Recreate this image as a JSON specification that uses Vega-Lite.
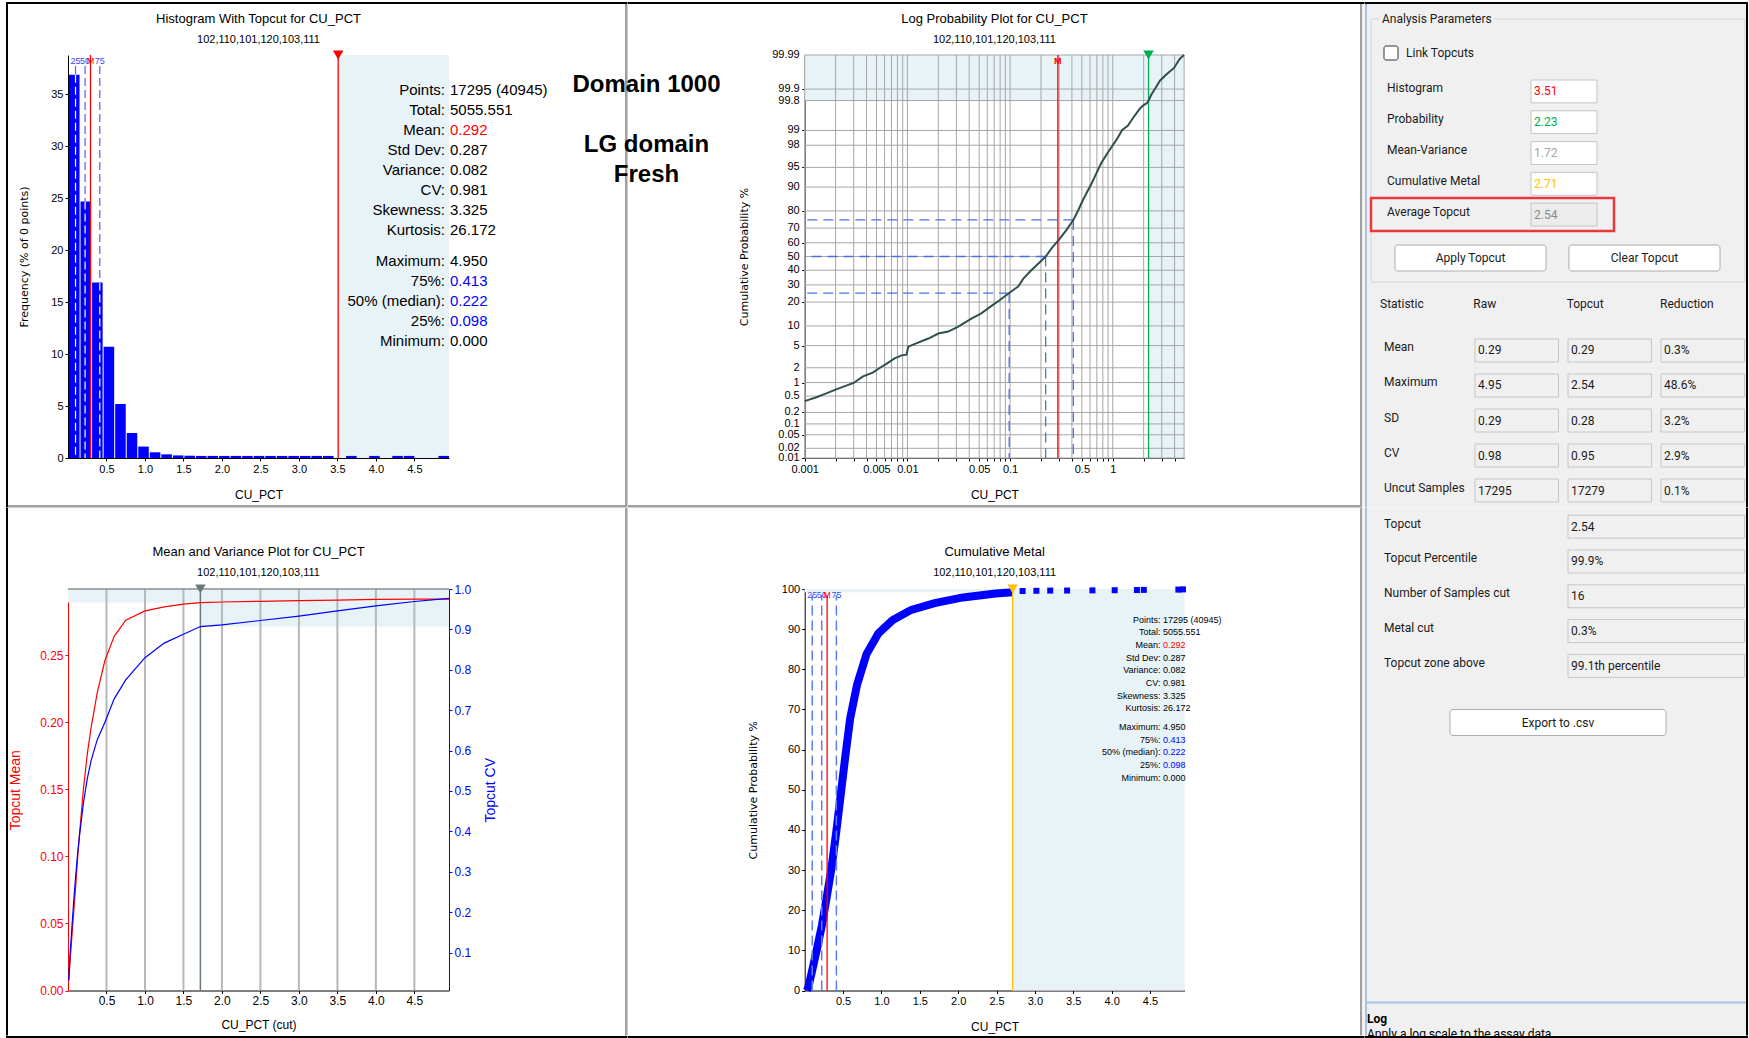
{
  "$schema": "https://vega.github.io/schema/vega-lite/v6.json",
  "background": "#ffffff",
  "padding": {"left": 4, "top": 0, "right": 0, "bottom": 0},
  "bounds": "flush",
  "spacing": 0,
  "columns": 9,
  "config": {
    "view": {"stroke": null},
    "concat": {"spacing": 0},
    "font": "Liberation Sans",
    "text": {"font": "Liberation Sans"},
    "axis": {
      "labelFont": "Liberation Sans", "labelFontSize": 11, "labelColor": "#000000",
      "titleFont": "Liberation Sans", "titleFontSize": 12, "titleFontWeight": "normal", "titleColor": "#000000",
      "domainColor": "#000000", "tickColor": "#000000", "tickSize": 3, "labelPadding": 2,
      "grid": false, "labelOverlap": false, "labelFlush": false
    },
    "title": {
      "font": "Liberation Sans", "fontSize": 13, "fontWeight": "normal", "color": "#000000",
      "subtitleFont": "Liberation Sans", "subtitleFontSize": 11, "subtitleColor": "#000000",
      "anchor": "middle", "frame": "group", "baseline": "top", "subtitlePadding": 8
    }
  },
  "datasets": {
    "topcuts": [
      {"method": "Histogram", "value": 3.51},
      {"method": "Probability", "value": 2.23, "p": 99.8},
      {"method": "Mean-Variance", "value": 1.72, "mean": 0.2892, "cv": 0.907},
      {"method": "Cumulative Metal", "value": 2.71, "pct": 99.2},
      {"method": "Average Topcut", "value": 2.54}
    ],
    "markers": [
      {"q": "25", "value": 0.098, "p": 25, "inBar": 36.9},
      {"q": "50", "value": 0.222, "p": 50, "inBar": 24.7},
      {"q": "M", "value": 0.292},
      {"q": "75", "value": 0.413, "p": 75, "inBar": 16.9}
    ],
    "hist": [
      {"start": 0.0, "end": 0.15, "freq": 36.9},
      {"start": 0.15, "end": 0.3, "freq": 24.7},
      {"start": 0.3, "end": 0.45, "freq": 16.9},
      {"start": 0.45, "end": 0.6, "freq": 10.7},
      {"start": 0.6, "end": 0.75, "freq": 5.2},
      {"start": 0.75, "end": 0.9, "freq": 2.4},
      {"start": 0.9, "end": 1.05, "freq": 1.1},
      {"start": 1.05, "end": 1.2, "freq": 0.55},
      {"start": 1.2, "end": 1.35, "freq": 0.35},
      {"start": 1.35, "end": 1.5, "freq": 0.25},
      {"start": 1.5, "end": 1.65, "freq": 0.22},
      {"start": 1.65, "end": 1.8, "freq": 0.2},
      {"start": 1.8, "end": 1.95, "freq": 0.2},
      {"start": 1.95, "end": 2.1, "freq": 0.2},
      {"start": 2.1, "end": 2.25, "freq": 0.2},
      {"start": 2.25, "end": 2.4, "freq": 0.2},
      {"start": 2.4, "end": 2.55, "freq": 0.2},
      {"start": 2.55, "end": 2.7, "freq": 0.2},
      {"start": 2.7, "end": 2.85, "freq": 0.2},
      {"start": 2.85, "end": 3.0, "freq": 0.2},
      {"start": 3.0, "end": 3.15, "freq": 0.2},
      {"start": 3.15, "end": 3.3, "freq": 0.2},
      {"start": 3.3, "end": 3.45, "freq": 0.2},
      {"start": 3.6, "end": 3.75, "freq": 0.2},
      {"start": 3.9, "end": 4.05, "freq": 0.2},
      {"start": 4.2, "end": 4.35, "freq": 0.2},
      {"start": 4.35, "end": 4.5, "freq": 0.2},
      {"start": 4.8, "end": 4.95, "freq": 0.2}
    ],
    "logprob": [
      {"cu": 0.001, "p": 0.38}, {"cu": 0.0013, "p": 0.47}, {"cu": 0.0016, "p": 0.57}, {"cu": 0.002, "p": 0.7},
      {"cu": 0.0025, "p": 0.85}, {"cu": 0.003, "p": 0.98}, {"cu": 0.0037, "p": 1.35}, {"cu": 0.0046, "p": 1.6},
      {"cu": 0.0055, "p": 2.05}, {"cu": 0.0063, "p": 2.4}, {"cu": 0.0075, "p": 3.0}, {"cu": 0.0088, "p": 3.4},
      {"cu": 0.0098, "p": 3.5}, {"cu": 0.0102, "p": 4.8}, {"cu": 0.012, "p": 5.4}, {"cu": 0.016, "p": 6.5},
      {"cu": 0.02, "p": 7.75}, {"cu": 0.025, "p": 8.3}, {"cu": 0.031, "p": 9.7}, {"cu": 0.042, "p": 12.6},
      {"cu": 0.052, "p": 14.6}, {"cu": 0.064, "p": 17.6}, {"cu": 0.079, "p": 21}, {"cu": 0.098, "p": 25},
      {"cu": 0.12, "p": 29}, {"cu": 0.134, "p": 34}, {"cu": 0.16, "p": 39.8}, {"cu": 0.19, "p": 45},
      {"cu": 0.222, "p": 50}, {"cu": 0.26, "p": 57}, {"cu": 0.297, "p": 61.9}, {"cu": 0.35, "p": 68.4},
      {"cu": 0.413, "p": 75}, {"cu": 0.46, "p": 80.2}, {"cu": 0.503, "p": 84.4}, {"cu": 0.56, "p": 88.2},
      {"cu": 0.622, "p": 91.1}, {"cu": 0.69, "p": 93.7}, {"cu": 0.768, "p": 95.7}, {"cu": 0.88, "p": 97.1},
      {"cu": 1.0, "p": 98.0}, {"cu": 1.1, "p": 98.5}, {"cu": 1.235, "p": 99.02}, {"cu": 1.4, "p": 99.21},
      {"cu": 1.61, "p": 99.51}, {"cu": 1.85, "p": 99.69}, {"cu": 2.0, "p": 99.74}, {"cu": 2.16, "p": 99.77},
      {"cu": 2.23, "p": 99.8}, {"cu": 2.4, "p": 99.866}, {"cu": 2.59, "p": 99.904}, {"cu": 2.88, "p": 99.941},
      {"cu": 3.3, "p": 99.96}, {"cu": 3.95, "p": 99.975}, {"cu": 4.5, "p": 99.987}, {"cu": 4.95, "p": 99.99}
    ],
    "logGrid": [
      {"cu": 0.001}, {"cu": 0.002}, {"cu": 0.003}, {"cu": 0.004}, {"cu": 0.005}, {"cu": 0.006}, {"cu": 0.007}, {"cu": 0.008}, {"cu": 0.009},
      {"cu": 0.01}, {"cu": 0.02}, {"cu": 0.03}, {"cu": 0.04}, {"cu": 0.05}, {"cu": 0.06}, {"cu": 0.07}, {"cu": 0.08}, {"cu": 0.09},
      {"cu": 0.1}, {"cu": 0.2}, {"cu": 0.3}, {"cu": 0.4}, {"cu": 0.5}, {"cu": 0.6}, {"cu": 0.7}, {"cu": 0.8}, {"cu": 0.9},
      {"cu": 1}, {"cu": 2}, {"cu": 3}, {"cu": 4}
    ],
    "probGrid": [
      {"p": 0.01}, {"p": 0.02}, {"p": 0.05}, {"p": 0.1}, {"p": 0.2}, {"p": 0.5}, {"p": 1}, {"p": 2}, {"p": 5}, {"p": 10},
      {"p": 20}, {"p": 30}, {"p": 40}, {"p": 50}, {"p": 60}, {"p": 70}, {"p": 80}, {"p": 90}, {"p": 95}, {"p": 98},
      {"p": 99}, {"p": 99.8}, {"p": 99.9}, {"p": 99.99}
    ],
    "mv": [
      {"cut": 0.01, "mean": 0.008, "cv": 0.03},
      {"cut": 0.025, "mean": 0.02, "cv": 0.09},
      {"cut": 0.05, "mean": 0.04, "cv": 0.16},
      {"cut": 0.075, "mean": 0.059, "cv": 0.23},
      {"cut": 0.1, "mean": 0.078, "cv": 0.29},
      {"cut": 0.125, "mean": 0.099, "cv": 0.345},
      {"cut": 0.15, "mean": 0.117, "cv": 0.39},
      {"cut": 0.2, "mean": 0.15, "cv": 0.47},
      {"cut": 0.25, "mean": 0.176, "cv": 0.53},
      {"cut": 0.3, "mean": 0.196, "cv": 0.575},
      {"cut": 0.38, "mean": 0.222, "cv": 0.627},
      {"cut": 0.48, "mean": 0.246, "cv": 0.67},
      {"cut": 0.6, "mean": 0.264, "cv": 0.728},
      {"cut": 0.75, "mean": 0.276, "cv": 0.775},
      {"cut": 1.0, "mean": 0.283, "cv": 0.83},
      {"cut": 1.25, "mean": 0.286, "cv": 0.866},
      {"cut": 1.5, "mean": 0.288, "cv": 0.888},
      {"cut": 1.72, "mean": 0.2892, "cv": 0.907},
      {"cut": 2.0, "mean": 0.2896, "cv": 0.911},
      {"cut": 2.5, "mean": 0.2901, "cv": 0.922},
      {"cut": 3.0, "mean": 0.2906, "cv": 0.933},
      {"cut": 3.5, "mean": 0.291, "cv": 0.946},
      {"cut": 4.0, "mean": 0.2916, "cv": 0.958},
      {"cut": 4.5, "mean": 0.2917, "cv": 0.969},
      {"cut": 4.95, "mean": 0.2918, "cv": 0.977}
    ],
    "mvGrid": [
      {"cut": 0.5}, {"cut": 1.0}, {"cut": 1.5}, {"cut": 2.0}, {"cut": 2.5}, {"cut": 3.0}, {"cut": 3.5}, {"cut": 4.0}, {"cut": 4.5}
    ],
    "metal": [
      {"cu": 0.03, "pct": 0}, {"cu": 0.05, "pct": 1}, {"cu": 0.1, "pct": 5.2}, {"cu": 0.163, "pct": 10.7},
      {"cu": 0.224, "pct": 16.2}, {"cu": 0.285, "pct": 23}, {"cu": 0.347, "pct": 30.2}, {"cu": 0.408, "pct": 39},
      {"cu": 0.469, "pct": 48.7}, {"cu": 0.53, "pct": 58.4}, {"cu": 0.592, "pct": 67.7}, {"cu": 0.683, "pct": 76.2},
      {"cu": 0.806, "pct": 83.8}, {"cu": 0.959, "pct": 88.9}, {"cu": 1.143, "pct": 92.2}, {"cu": 1.388, "pct": 94.8},
      {"cu": 1.694, "pct": 96.5}, {"cu": 2.061, "pct": 97.9}, {"cu": 2.49, "pct": 98.9}, {"cu": 2.71, "pct": 99.2},
      {"cu": 2.84, "pct": 99.5}, {"cu": 3.02, "pct": 99.55}, {"cu": 3.2, "pct": 99.6}, {"cu": 3.42, "pct": 99.62},
      {"cu": 3.75, "pct": 99.66}, {"cu": 4.04, "pct": 99.7}, {"cu": 4.33, "pct": 99.74}, {"cu": 4.42, "pct": 99.78},
      {"cu": 4.87, "pct": 99.85}, {"cu": 4.93, "pct": 99.9}
    ],
    "stats": [
      {"block": "moments", "label": "Points:", "value": "17295 (40945)", "kind": "plain"},
      {"block": "moments", "label": "Total:", "value": "5055.551", "kind": "plain"},
      {"block": "moments", "label": "Mean:", "value": "0.292", "kind": "mean"},
      {"block": "moments", "label": "Std Dev:", "value": "0.287", "kind": "plain"},
      {"block": "moments", "label": "Variance:", "value": "0.082", "kind": "plain"},
      {"block": "moments", "label": "CV:", "value": "0.981", "kind": "plain"},
      {"block": "moments", "label": "Skewness:", "value": "3.325", "kind": "plain"},
      {"block": "moments", "label": "Kurtosis:", "value": "26.172", "kind": "plain"},
      {"block": "quantiles", "label": "Maximum:", "value": "4.950", "kind": "plain"},
      {"block": "quantiles", "label": "75%:", "value": "0.413", "kind": "quantile"},
      {"block": "quantiles", "label": "50% (median):", "value": "0.222", "kind": "quantile"},
      {"block": "quantiles", "label": "25%:", "value": "0.098", "kind": "quantile"},
      {"block": "quantiles", "label": "Minimum:", "value": "0.000", "kind": "plain"}
    ],
    "notes": [
      {"line": 1, "text": "Domain 1000"},
      {"line": 3, "text": "LG domain"},
      {"line": 4, "text": "Fresh"}
    ],
    "statCells": [
      {"stat": "Mean", "col": "Raw", "text": "0.29"}, {"stat": "Mean", "col": "Topcut", "text": "0.29"}, {"stat": "Mean", "col": "Reduction", "text": "0.3%"},
      {"stat": "Maximum", "col": "Raw", "text": "4.95"}, {"stat": "Maximum", "col": "Topcut", "text": "2.54"}, {"stat": "Maximum", "col": "Reduction", "text": "48.6%"},
      {"stat": "SD", "col": "Raw", "text": "0.29"}, {"stat": "SD", "col": "Topcut", "text": "0.28"}, {"stat": "SD", "col": "Reduction", "text": "3.2%"},
      {"stat": "CV", "col": "Raw", "text": "0.98"}, {"stat": "CV", "col": "Topcut", "text": "0.95"}, {"stat": "CV", "col": "Reduction", "text": "2.9%"},
      {"stat": "Uncut Samples", "col": "Raw", "text": "17295"}, {"stat": "Uncut Samples", "col": "Topcut", "text": "17279"}, {"stat": "Uncut Samples", "col": "Reduction", "text": "0.1%"},
      {"stat": "Topcut", "col": "Wide", "text": "2.54"},
      {"stat": "Topcut Percentile", "col": "Wide", "text": "99.9%"},
      {"stat": "Number of Samples cut", "col": "Wide", "text": "16"},
      {"stat": "Metal cut", "col": "Wide", "text": "0.3%"},
      {"stat": "Topcut zone above", "col": "Wide", "text": "99.1th percentile"}
    ],
    "block": [{"part": "block"}]
  },
  "concat": [
    {"width": 2, "height": 2, "data": {"name": "block"}, "mark": {"type": "point", "opacity": 0}, "encoding": {}, "view": {"fill": "#000000", "stroke": null}},
    {"width": 617, "height": 2, "data": {"name": "block"}, "mark": {"type": "point", "opacity": 0}, "encoding": {}, "view": {"fill": "#000000", "stroke": null}},
    {"width": 2.5, "height": 2, "data": {"name": "block"}, "mark": {"type": "point", "opacity": 0}, "encoding": {}, "view": {"fill": "#000000", "stroke": null}},
    {"width": 732, "height": 2, "data": {"name": "block"}, "mark": {"type": "point", "opacity": 0}, "encoding": {}, "view": {"fill": "#000000", "stroke": null}},
    {"width": 2, "height": 2, "data": {"name": "block"}, "mark": {"type": "point", "opacity": 0}, "encoding": {}, "view": {"fill": "#000000", "stroke": null}},
    {"width": 2.5, "height": 2, "data": {"name": "block"}, "mark": {"type": "point", "opacity": 0}, "encoding": {}, "view": {"fill": "#000000", "stroke": null}},
    {"width": 2, "height": 2, "data": {"name": "block"}, "mark": {"type": "point", "opacity": 0}, "encoding": {}, "view": {"fill": "#000000", "stroke": null}},
    {"width": 379, "height": 2, "data": {"name": "block"}, "mark": {"type": "point", "opacity": 0}, "encoding": {}, "view": {"fill": "#000000", "stroke": null}},
    {"width": 2, "height": 2, "data": {"name": "block"}, "mark": {"type": "point", "opacity": 0}, "encoding": {}, "view": {"fill": "#000000", "stroke": null}},

    {"width": 2, "height": 501, "data": {"name": "block"}, "mark": {"type": "point", "opacity": 0}, "encoding": {}, "view": {"fill": "#000000", "stroke": null}},
    {
      "width": 617, "height": 501,
      "title": {"text": "Histogram With Topcut for CU_PCT", "subtitle": "102,110,101,120,103,111", "dx": -58, "offset": -41},
      "layer": [
        {
          "layer": [
            {
              "data": {"name": "topcuts"},
              "transform": [{"filter": "datum.method === 'Histogram'"}],
              "mark": {"type": "rect", "color": "#e8f3f8"},
              "encoding": {
                "x": {"field": "value", "type": "quantitative",
                      "scale": {"domain": [0, 4.95], "range": [60, 441], "nice": false, "zero": false},
                      "axis": {"orient": "bottom", "offset": -47, "values": [0.5, 1, 1.5, 2, 2.5, 3, 3.5, 4, 4.5], "format": ".1f", "title": "CU_PCT", "titlePadding": 15}},
                "x2": {"datum": 4.95},
                "y": {"datum": 0, "type": "quantitative",
                      "scale": {"domain": [0, 38.8], "range": [454, 51], "nice": false, "zero": false},
                      "axis": {"orient": "left", "offset": -60, "values": [0, 5, 10, 15, 20, 25, 30, 35], "title": "Frequency (% of 0 points)", "titleFont": "DejaVu Sans", "titleFontSize": 11, "titlePadding": 21}},
                "y2": {"datum": 38.8}
              }
            },
            {
              "data": {"name": "markers"},
              "transform": [{"filter": "datum.q !== 'M'"}],
              "mark": {"type": "rule", "color": "#4868f0", "strokeWidth": 1.2, "strokeDash": [8, 4]},
              "encoding": {"x": {"field": "value", "type": "quantitative"}, "y": {"datum": 0}, "y2": {"datum": 37.9}}
            },
            {
              "data": {"name": "hist"},
              "mark": {"type": "bar", "color": "#0000ff", "binSpacing": 1},
              "encoding": {
                "x": {"field": "start", "type": "quantitative", "bin": "binned"},
                "x2": {"field": "end"},
                "y": {"field": "freq", "type": "quantitative"}
              }
            },
            {
              "data": {"name": "markers"},
              "transform": [{"filter": "datum.q !== 'M'"}],
              "mark": {"type": "rule", "color": "#ffffff", "strokeWidth": 1.2, "strokeDash": [8, 4]},
              "encoding": {"x": {"field": "value", "type": "quantitative"}, "y": {"field": "inBar", "type": "quantitative"}, "y2": {"datum": 0}}
            },
            {
              "data": {"name": "markers"},
              "transform": [{"filter": "datum.q === 'M'"}],
              "mark": {"type": "rule", "color": "#ff0000", "strokeWidth": 1.3},
              "encoding": {"x": {"field": "value", "type": "quantitative"}, "y": {"datum": 0}, "y2": {"datum": 38.8}}
            },
            {
              "data": {"name": "topcuts"},
              "transform": [{"filter": "datum.method === 'Histogram'"}],
              "mark": {"type": "rule", "color": "#ff0000", "strokeWidth": 1.3},
              "encoding": {"x": {"field": "value", "type": "quantitative"}, "y": {"datum": 0}, "y2": {"datum": 38.8}}
            },
            {
              "data": {"name": "topcuts"},
              "transform": [{"filter": "datum.method === 'Histogram'"}],
              "mark": {"type": "point", "shape": "triangle-down", "filled": true, "color": "#ff0000", "size": 110, "opacity": 1},
              "encoding": {"x": {"field": "value", "type": "quantitative"}, "y": {"datum": 38.8}}
            },
            {
              "data": {"name": "markers"},
              "mark": {"type": "text", "fontSize": 9, "baseline": "top", "dy": 2},
              "encoding": {
                "x": {"field": "value", "type": "quantitative"},
                "y": {"datum": 38.8},
                "text": {"field": "q"},
                "color": {"field": "q", "type": "nominal", "scale": {"domain": ["25", "50", "M", "75"], "range": ["#3348ff", "#3348ff", "#ff0000", "#3348ff"]}, "legend": null}
              }
            }
          ]
        },
        {
          "data": {"name": "stats"},
          "transform": [{"filter": "datum.block === 'moments'"}],
          "encoding": {
            "x": {"datum": 4.95, "type": "quantitative"},
            "y": {"field": "label", "type": "nominal", "sort": null, "scale": {"type": "point", "range": [86, 226], "padding": 0}, "axis": null}
          },
          "layer": [
            {"mark": {"type": "text", "align": "right", "baseline": "middle", "dx": -4, "fontSize": 15, "color": "#000000"}, "encoding": {"text": {"field": "label"}}},
            {"mark": {"type": "text", "align": "left", "baseline": "middle", "dx": 1, "fontSize": 15},
             "encoding": {"text": {"field": "value"}, "color": {"field": "kind", "type": "nominal", "scale": {"domain": ["plain", "mean", "quantile"], "range": ["#000000", "#ff0000", "#0000ff"]}, "legend": null}}}
          ]
        },
        {
          "data": {"name": "stats"},
          "transform": [{"filter": "datum.block === 'quantiles'"}],
          "encoding": {
            "x": {"datum": 4.95, "type": "quantitative"},
            "y": {"field": "label", "type": "nominal", "sort": null, "scale": {"type": "point", "range": [256.5, 336.5], "padding": 0}, "axis": null}
          },
          "layer": [
            {"mark": {"type": "text", "align": "right", "baseline": "middle", "dx": -4, "fontSize": 15, "color": "#000000"}, "encoding": {"text": {"field": "label"}}},
            {"mark": {"type": "text", "align": "left", "baseline": "middle", "dx": 1, "fontSize": 15},
             "encoding": {"text": {"field": "value"}, "color": {"field": "kind", "type": "nominal", "scale": {"domain": ["plain", "mean", "quantile"], "range": ["#000000", "#ff0000", "#0000ff"]}, "legend": null}}}
          ]
        }
      ],
      "resolve": {"scale": {"y": "independent", "color": "independent"}}
    },
    {"width": 2.5, "height": 501, "data": {"name": "block"}, "mark": {"type": "point", "opacity": 0}, "encoding": {}, "view": {"fill": "#a0a0a0", "stroke": null}},
    {
      "width": 732, "height": 501,
      "title": {"text": "Log Probability Plot for CU_PCT", "subtitle": "102,110,101,120,103,111", "dx": 0.4, "offset": -41},
      "layer": [
        {
          "layer": [
            {
              "data": {"name": "topcuts"},
              "transform": [{"filter": "datum.method === 'Probability'"}],
              "mark": {"type": "rect", "color": "#e8f3f8"},
              "encoding": {
                "x": {"field": "value", "type": "quantitative",
                      "scale": {"type": "log", "domain": [0.001, 4.95], "range": [176.7, 556.1], "nice": false},
                      "axis": {"orient": "bottom", "offset": -47, "labelOverlap": false,
                               "values": [0.001, 0.002, 0.003, 0.004, 0.005, 0.006, 0.007, 0.008, 0.009, 0.01, 0.02, 0.03, 0.04, 0.05, 0.06, 0.07, 0.08, 0.09, 0.1, 0.2, 0.3, 0.4, 0.5, 0.6, 0.7, 0.8, 0.9, 1, 2, 3, 4],
                               "labelExpr": "indexof([0.001, 0.005, 0.01, 0.05, 0.1, 0.5, 1], datum.value) >= 0 ? format(datum.value, '~g') : ''",
                               "title": "CU_PCT", "titlePadding": 15, "domainColor": "#404040"}},
                "x2": {"datum": 4.95},
                "y": {"datum": -3.719, "type": "quantitative",
                      "scale": {"domain": [-3.719, 3.719], "range": [454, 51], "nice": false, "zero": false},
                      "axis": {"orient": "left", "offset": -176.7, "labels": false,
                               "values": [-3.719, -3.5401, -3.2905, -3.0902, -2.8782, -2.5758, -2.3263, -2.0537, -1.6449, -1.2816, -0.8416, -0.5244, -0.2533, 0, 0.2533, 0.5244, 0.8416, 1.2816, 1.6449, 2.0537, 2.3263, 2.8782, 3.0902, 3.719],
                               "title": "Cumulative Probability %", "titleFont": "DejaVu Sans", "titleFontSize": 11, "titlePadding": 52, "domainColor": "#404040"}},
                "y2": {"datum": 3.719}
              }
            },
            {
              "data": {"name": "topcuts"},
              "transform": [
                {"filter": "datum.method === 'Probability'"},
                {"calculate": "quantileNormal(datum.p / 100)", "as": "z"}
              ],
              "mark": {"type": "rect", "color": "#e8f3f8"},
              "encoding": {"x": {"datum": 0.001}, "x2": {"datum": 4.95}, "y": {"field": "z", "type": "quantitative"}, "y2": {"datum": 3.719}}
            },
            {
              "data": {"name": "logGrid"},
              "mark": {"type": "rule", "color": "#a6a6a6", "strokeWidth": 1},
              "encoding": {"x": {"field": "cu", "type": "quantitative"}, "y": {"datum": -3.719}, "y2": {"datum": 3.719}}
            },
            {
              "data": {"name": "probGrid"},
              "transform": [{"calculate": "quantileNormal(datum.p / 100)", "as": "z"}],
              "mark": {"type": "rule", "color": "#a6a6a6", "strokeWidth": 1},
              "encoding": {"x": {"datum": 0.001}, "x2": {"datum": 4.95}, "y": {"field": "z", "type": "quantitative"}}
            },
            {
              "data": {"name": "probGrid"},
              "transform": [{"calculate": "quantileNormal(datum.p / 100)", "as": "z"}],
              "mark": {"type": "text", "align": "right", "baseline": "middle", "dx": -5, "fontSize": 11, "color": "#000000"},
              "encoding": {"x": {"datum": 0.001}, "y": {"field": "z", "type": "quantitative"}, "text": {"field": "p", "type": "nominal"}}
            },
            {
              "data": {"name": "topcuts"},
              "transform": [{"filter": "datum.method === 'Probability'"}],
              "mark": {"type": "rule", "color": "#a6a6a6", "strokeWidth": 1},
              "encoding": {"x": {"datum": 4.95}, "y": {"datum": -3.719}, "y2": {"datum": 3.719}}
            },
            {
              "data": {"name": "topcuts"},
              "transform": [{"filter": "datum.method === 'Probability'"}],
              "mark": {"type": "rule", "color": "#00b050", "strokeWidth": 1.3},
              "encoding": {"x": {"field": "value", "type": "quantitative"}, "y": {"datum": -3.719}, "y2": {"datum": 3.719}}
            },
            {
              "data": {"name": "markers"},
              "transform": [{"filter": "datum.q === 'M'"}],
              "mark": {"type": "rule", "color": "#ff0000", "strokeWidth": 1.3},
              "encoding": {"x": {"field": "value", "type": "quantitative"}, "y": {"datum": -3.719}, "y2": {"datum": 3.719}}
            },
            {
              "data": {"name": "markers"},
              "transform": [{"filter": "datum.q === 'M'"}],
              "mark": {"type": "text", "color": "#ff0000", "fontSize": 9, "fontWeight": "bold", "baseline": "top", "dy": 2},
              "encoding": {"x": {"field": "value", "type": "quantitative"}, "y": {"datum": 3.719}, "text": {"field": "q"}}
            },
            {
              "data": {"name": "markers"},
              "transform": [{"filter": "datum.q !== 'M'"}, {"calculate": "quantileNormal(datum.p / 100)", "as": "z"}],
              "mark": {"type": "rule", "color": "#4a72e8", "strokeWidth": 1.3, "strokeDash": [10, 6]},
              "encoding": {"x": {"field": "value", "type": "quantitative"}, "x2": {"datum": 0.001}, "y": {"field": "z", "type": "quantitative"}}
            },
            {
              "data": {"name": "markers"},
              "transform": [{"filter": "datum.q !== 'M'"}, {"calculate": "quantileNormal(datum.p / 100)", "as": "z"}],
              "mark": {"type": "rule", "color": "#4a72e8", "strokeWidth": 1.3, "strokeDash": [10, 6]},
              "encoding": {"x": {"field": "value", "type": "quantitative"}, "y": {"field": "z", "type": "quantitative"}, "y2": {"datum": -3.719}}
            },
            {
              "data": {"name": "logprob"},
              "transform": [{"calculate": "quantileNormal(datum.p / 100)", "as": "z"}],
              "mark": {"type": "line", "color": "#2f4f4f", "strokeWidth": 2},
              "encoding": {"x": {"field": "cu", "type": "quantitative"}, "y": {"field": "z", "type": "quantitative"}}
            },
            {
              "data": {"name": "topcuts"},
              "transform": [{"filter": "datum.method === 'Probability'"}],
              "mark": {"type": "point", "shape": "triangle-down", "filled": true, "color": "#00b050", "size": 110, "opacity": 1},
              "encoding": {"x": {"field": "value", "type": "quantitative"}, "y": {"datum": 3.719}}
            }
          ]
        },
        {
          "data": {"name": "notes"},
          "transform": [{"calculate": "'note'", "as": "anchor"}],
          "mark": {"type": "text", "fontSize": 24, "fontWeight": "bold", "align": "center", "baseline": "middle", "color": "#000000"},
          "encoding": {
            "x": {"field": "anchor", "type": "nominal", "scale": {"type": "point", "domain": ["note"], "range": [18.5, 18.5]}, "axis": null},
            "y": {"field": "line", "type": "ordinal", "scale": {"type": "point", "domain": [1, 2, 3, 4], "range": [80.5, 170.5], "padding": 0}, "axis": null},
            "text": {"field": "text"}
          }
        }
      ],
      "resolve": {"scale": {"x": "independent", "y": "independent"}}
    },
    {"width": 2, "height": 501, "data": {"name": "block"}, "mark": {"type": "point", "opacity": 0}, "encoding": {}, "view": {"fill": "#a0a0a0", "stroke": null}},
    {"width": 2.5, "height": 501, "data": {"name": "block"}, "mark": {"type": "point", "opacity": 0}, "encoding": {}, "view": {"fill": "#f0f0f0", "stroke": null}},
    {"width": 2, "height": 501, "data": {"name": "block"}, "mark": {"type": "point", "opacity": 0}, "encoding": {}, "view": {"fill": "#a7c0e6", "stroke": null}},
    {
      "width": 379, "height": 501,
      "view": {"fill": "#f0f0f0", "stroke": null},
      "layer": [
        {
          "data": {"values": [{"item": "Analysis Parameters"}]},
          "mark": {"type": "rect", "filled": false, "stroke": "#d5d5d5", "strokeWidth": 1},
          "encoding": {
            "x": {"field": "item", "type": "nominal", "scale": {"type": "band", "range": [4, 378], "paddingInner": 0, "paddingOuter": 0}, "axis": null},
            "y": {"field": "item", "type": "nominal", "scale": {"type": "band", "range": [15, 278], "paddingInner": 0, "paddingOuter": 0}, "axis": null}
          }
        },
        {
          "data": {"values": [{"item": "Analysis Parameters"}]},
          "layer": [
            {"mark": {"type": "rect", "color": "#f0f0f0"},
             "encoding": {
               "x": {"field": "item", "type": "nominal", "scale": {"type": "band", "range": [12, 127], "paddingInner": 0, "paddingOuter": 0}, "axis": null},
               "y": {"field": "item", "type": "nominal", "scale": {"type": "band", "range": [8, 22], "paddingInner": 0, "paddingOuter": 0}, "axis": null}}},
            {"mark": {"type": "text", "align": "left", "baseline": "middle", "dx": 3, "font": "Roboto", "fontSize": 12, "color": "#1a1a1a"},
             "encoding": {
               "x": {"field": "item", "type": "nominal", "bandPosition": 0},
               "y": {"field": "item", "type": "nominal"},
               "text": {"field": "item"}}}
          ]
        },
        {
          "data": {"values": [{"item": "Link Topcuts"}]},
          "layer": [
            {"mark": {"type": "rect", "fill": "#ffffff", "stroke": "#333333", "strokeWidth": 1, "cornerRadius": 2},
             "encoding": {
               "x": {"field": "item", "type": "nominal", "scale": {"type": "band", "range": [17, 31], "paddingInner": 0, "paddingOuter": 0}, "axis": null},
               "y": {"field": "item", "type": "nominal", "scale": {"type": "band", "range": [42, 56], "paddingInner": 0, "paddingOuter": 0}, "axis": null}}},
            {"mark": {"type": "text", "align": "left", "baseline": "middle", "dx": 8, "font": "Roboto", "fontSize": 12, "color": "#1a1a1a"},
             "encoding": {
               "x": {"field": "item", "type": "nominal", "bandPosition": 1},
               "y": {"field": "item", "type": "nominal"},
               "text": {"field": "item"}}}
          ]
        },
        {
          "data": {"name": "topcuts"},
          "transform": [{"calculate": "'box'", "as": "slot"}],
          "mark": {"type": "rect", "stroke": "#c4c4c4", "strokeWidth": 1},
          "encoding": {
            "x": {"field": "slot", "type": "nominal", "scale": {"type": "band", "domain": ["box"], "range": [164, 230], "paddingInner": 0, "paddingOuter": 0}, "axis": null},
            "y": {"field": "method", "type": "nominal", "scale": {"type": "band", "domain": ["Histogram", "Probability", "Mean-Variance", "Cumulative Metal", "Average Topcut"], "range": [76, 222], "paddingInner": 0.258, "paddingOuter": 0}, "axis": null},
            "fill": {"condition": {"test": "datum.method === 'Average Topcut'", "value": "#ececec"}, "value": "#ffffff"}
          }
        },
        {
          "data": {"name": "topcuts"},
          "transform": [{"calculate": "'label'", "as": "labelSlot"}, {"calculate": "'value'", "as": "valueSlot"}],
          "layer": [
            {"mark": {"type": "text", "align": "left", "baseline": "middle", "dy": -3, "font": "Roboto", "fontSize": 12, "color": "#1a1a1a"},
             "encoding": {
               "x": {"field": "labelSlot", "type": "nominal", "scale": {"type": "point", "domain": ["label", "value"], "range": [20, 167], "padding": 0}, "axis": null},
               "y": {"field": "method", "type": "nominal", "scale": {"type": "band", "domain": ["Histogram", "Probability", "Mean-Variance", "Cumulative Metal", "Average Topcut"], "range": [76, 222], "paddingInner": 0.258, "paddingOuter": 0}, "axis": null},
               "text": {"field": "method"}}},
            {"mark": {"type": "text", "align": "left", "baseline": "middle", "font": "Roboto", "fontSize": 12},
             "encoding": {
               "x": {"field": "valueSlot", "type": "nominal"},
               "y": {"field": "method", "type": "nominal"},
               "text": {"field": "value", "type": "quantitative", "format": ".2f"},
               "color": {"field": "method", "type": "nominal", "scale": {"domain": ["Histogram", "Probability", "Mean-Variance", "Cumulative Metal", "Average Topcut"], "range": ["#ff0000", "#00b050", "#a6a6a6", "#ffc000", "#8a8a8a"]}, "legend": null}}}
          ]
        },
        {
          "data": {"values": [{"item": "Average Topcut"}]},
          "mark": {"type": "rect", "filled": false, "stroke": "#e8393e", "strokeWidth": 2.5},
          "encoding": {
            "x": {"field": "item", "type": "nominal", "scale": {"type": "band", "range": [4, 247], "paddingInner": 0, "paddingOuter": 0}, "axis": null},
            "y": {"field": "item", "type": "nominal", "scale": {"type": "band", "range": [194, 227], "paddingInner": 0, "paddingOuter": 0}, "axis": null}
          }
        },
        {
          "data": {"values": [{"button": "Apply Topcut"}, {"button": "Clear Topcut"}]},
          "transform": [{"calculate": "'buttons'", "as": "row"}],
          "layer": [
            {"mark": {"type": "rect", "fill": "#ffffff", "stroke": "#adadad", "strokeWidth": 1, "cornerRadius": 3},
             "encoding": {
               "x": {"field": "button", "type": "nominal", "scale": {"type": "band", "domain": ["Apply Topcut", "Clear Topcut"], "range": [28, 353], "paddingInner": 0.132, "paddingOuter": 0}, "axis": null},
               "y": {"field": "row", "type": "nominal", "scale": {"type": "band", "domain": ["buttons"], "range": [241, 267], "paddingInner": 0, "paddingOuter": 0}, "axis": null}}},
            {"mark": {"type": "text", "align": "center", "baseline": "middle", "font": "Roboto", "fontSize": 12, "color": "#1a1a1a"},
             "encoding": {
               "x": {"field": "button", "type": "nominal"},
               "y": {"field": "row", "type": "nominal"},
               "text": {"field": "button"}}}
          ]
        },
        {
          "data": {"values": [{"col": "Statistic"}, {"col": "Raw"}, {"col": "Topcut"}, {"col": "Reduction"}]},
          "transform": [{"calculate": "'header'", "as": "row"}],
          "mark": {"type": "text", "align": "left", "baseline": "middle", "font": "Roboto", "fontSize": 12, "color": "#1a1a1a"},
          "encoding": {
            "x": {"field": "col", "type": "nominal", "scale": {"type": "point", "domain": ["Statistic", "Raw", "Topcut", "Reduction"], "range": [13, 293], "padding": 0}, "axis": null},
            "y": {"field": "row", "type": "nominal", "scale": {"type": "point", "domain": ["header"], "range": [300, 300], "padding": 0}, "axis": null},
            "text": {"field": "col"}
          }
        },
        {
          "data": {"name": "statCells"},
          "transform": [{"filter": "datum.col !== 'Wide'"}],
          "layer": [
            {"mark": {"type": "rect", "fill": "#f0f0f0", "stroke": "#c6c6c6", "strokeWidth": 1},
             "encoding": {
               "x": {"field": "col", "type": "nominal", "scale": {"type": "band", "domain": ["Raw", "Topcut", "Reduction"], "range": [108, 377.5], "paddingInner": 0.102, "paddingOuter": 0}, "axis": null},
               "y": {"field": "stat", "type": "nominal", "scale": {"type": "band", "domain": ["Mean", "Maximum", "SD", "CV", "Uncut Samples"], "range": [335, 498], "paddingInner": 0.343, "paddingOuter": 0}, "axis": null}}},
            {"mark": {"type": "text", "align": "left", "baseline": "middle", "dx": 3, "font": "Roboto", "fontSize": 12, "color": "#1a1a1a"},
             "encoding": {
               "x": {"field": "col", "type": "nominal", "bandPosition": 0},
               "y": {"field": "stat", "type": "nominal"},
               "text": {"field": "text"}}}
          ]
        },
        {
          "data": {"values": [{"stat": "Mean"}, {"stat": "Maximum"}, {"stat": "SD"}, {"stat": "CV"}, {"stat": "Uncut Samples"}]},
          "transform": [{"calculate": "'label'", "as": "slot"}],
          "mark": {"type": "text", "align": "left", "baseline": "middle", "dy": -3, "font": "Roboto", "fontSize": 12, "color": "#1a1a1a"},
          "encoding": {
            "x": {"field": "slot", "type": "nominal", "scale": {"type": "point", "domain": ["label"], "range": [17, 17], "padding": 0}, "axis": null},
            "y": {"field": "stat", "type": "nominal", "scale": {"type": "band", "domain": ["Mean", "Maximum", "SD", "CV", "Uncut Samples"], "range": [335, 498], "paddingInner": 0.343, "paddingOuter": 0}, "axis": null},
            "text": {"field": "stat"}
          }
        }
      ],
      "resolve": {"scale": {"x": "independent", "y": "independent", "color": "independent"}}
    },
    {"width": 2, "height": 501, "data": {"name": "block"}, "mark": {"type": "point", "opacity": 0}, "encoding": {}, "view": {"fill": "#000000", "stroke": null}},

    {"width": 2, "height": 2.5, "data": {"name": "block"}, "mark": {"type": "point", "opacity": 0}, "encoding": {}, "view": {"fill": "#000000", "stroke": null}},
    {"width": 617, "height": 2.5, "data": {"name": "block"}, "mark": {"type": "point", "opacity": 0}, "encoding": {}, "view": {"fill": "#a0a0a0", "stroke": null}},
    {"width": 2.5, "height": 2.5, "data": {"name": "block"}, "mark": {"type": "point", "opacity": 0}, "encoding": {}, "view": {"fill": "#a0a0a0", "stroke": null}},
    {"width": 732, "height": 2.5, "data": {"name": "block"}, "mark": {"type": "point", "opacity": 0}, "encoding": {}, "view": {"fill": "#a0a0a0", "stroke": null}},
    {"width": 2, "height": 2.5, "data": {"name": "block"}, "mark": {"type": "point", "opacity": 0}, "encoding": {}, "view": {"fill": "#a0a0a0", "stroke": null}},
    {"width": 2.5, "height": 2.5, "data": {"name": "block"}, "mark": {"type": "point", "opacity": 0}, "encoding": {}, "view": {"fill": "#f0f0f0", "stroke": null}},
    {"width": 2, "height": 2.5, "data": {"name": "block"}, "mark": {"type": "point", "opacity": 0}, "encoding": {}, "view": {"fill": "#a7c0e6", "stroke": null}},
    {"width": 379, "height": 2.5, "data": {"name": "block"}, "mark": {"type": "point", "opacity": 0}, "encoding": {}, "view": {"fill": "#f0f0f0", "stroke": null}},
    {"width": 2, "height": 2.5, "data": {"name": "block"}, "mark": {"type": "point", "opacity": 0}, "encoding": {}, "view": {"fill": "#000000", "stroke": null}},

    {"width": 2, "height": 527.5, "data": {"name": "block"}, "mark": {"type": "point", "opacity": 0}, "encoding": {}, "view": {"fill": "#000000", "stroke": null}},
    {
      "width": 617, "height": 527.5,
      "title": {"text": "Mean and Variance Plot for CU_PCT", "subtitle": "102,110,101,120,103,111", "dx": -58, "offset": -69.5},
      "layer": [
        {
          "data": {"name": "topcuts"},
          "transform": [{"filter": "datum.method === 'Mean-Variance'"}],
          "mark": {"type": "rect", "color": "#e8f3f8"},
          "encoding": {
            "x": {"datum": 0, "type": "quantitative",
                  "scale": {"domain": [0, 4.95], "range": [60, 441], "nice": false, "zero": false},
                  "axis": {"orient": "bottom", "offset": -45, "values": [0.5, 1, 1.5, 2, 2.5, 3, 3.5, 4, 4.5], "format": ".1f", "title": "CU_PCT (cut)", "titlePadding": 12.5, "labelFontSize": 12}},
            "x2": {"datum": 4.95},
            "y": {"field": "mean", "type": "quantitative", "scale": {"domain": [0, 0.2993], "range": [482.5, 81], "nice": false, "zero": false}, "axis": null},
            "y2": {"datum": 0.2993}
          }
        },
        {
          "data": {"name": "topcuts"},
          "transform": [{"filter": "datum.method === 'Mean-Variance'"}],
          "mark": {"type": "rect", "color": "#e8f3f8"},
          "encoding": {
            "x": {"field": "value", "type": "quantitative"},
            "x2": {"datum": 4.95},
            "y": {"field": "cv", "type": "quantitative", "scale": {"domain": [0.006, 1], "range": [482.5, 81], "nice": false, "zero": false}, "axis": null},
            "y2": {"datum": 1}
          }
        },
        {
          "layer": [
            {
              "data": {"name": "mvGrid"},
              "mark": {"type": "rule", "color": "#b8b8b8", "strokeWidth": 2},
              "encoding": {
                "x": {"field": "cut", "type": "quantitative"},
                "y": {"datum": 0, "type": "quantitative",
                      "scale": {"domain": [0, 0.2993], "range": [482.5, 81], "nice": false, "zero": false},
                      "axis": {"orient": "left", "offset": -60, "values": [0, 0.05, 0.1, 0.15, 0.2, 0.25], "format": ".2f",
                               "title": "Topcut Mean", "titleColor": "#ff0000", "titleFontSize": 14, "titlePadding": 17,
                               "labelColor": "#ff0000", "labelFontSize": 12, "domainColor": "#ff0000", "tickColor": "#ff0000"}},
                "y2": {"datum": 0.2993}
              }
            },
            {
              "data": {"name": "topcuts"},
              "transform": [{"filter": "datum.method === 'Mean-Variance'"}],
              "mark": {"type": "rule", "color": "#8c8c8c", "strokeWidth": 1.5},
              "encoding": {"x": {"datum": 0}, "x2": {"datum": 4.95}, "y": {"datum": 0.2993}}
            },
            {
              "data": {"name": "topcuts"},
              "transform": [{"filter": "datum.method === 'Mean-Variance'"}],
              "mark": {"type": "rule", "color": "#6b7b7b", "strokeWidth": 1.5},
              "encoding": {"x": {"field": "value", "type": "quantitative"}, "y": {"datum": 0}, "y2": {"datum": 0.2993}}
            },
            {
              "data": {"name": "mv"},
              "mark": {"type": "line", "color": "#ff0000", "strokeWidth": 1.2},
              "encoding": {"x": {"field": "cut", "type": "quantitative"}, "y": {"field": "mean", "type": "quantitative"}}
            },
            {
              "data": {"name": "topcuts"},
              "transform": [{"filter": "datum.method === 'Mean-Variance'"}],
              "mark": {"type": "point", "shape": "triangle-down", "filled": true, "color": "#6b7b7b", "size": 110, "opacity": 1},
              "encoding": {"x": {"field": "value", "type": "quantitative"}, "y": {"datum": 0.2993}}
            }
          ]
        },
        {
          "data": {"name": "mv"},
          "mark": {"type": "line", "color": "#0000ff", "strokeWidth": 1.2},
          "encoding": {
            "x": {"field": "cut", "type": "quantitative"},
            "y": {"field": "cv", "type": "quantitative",
                  "scale": {"domain": [0.006, 1], "range": [482.5, 81], "nice": false, "zero": false},
                  "axis": {"orient": "right", "offset": -176, "values": [0.1, 0.2, 0.3, 0.4, 0.5, 0.6, 0.7, 0.8, 0.9, 1.0], "format": ".1f",
                           "title": "Topcut CV", "titleColor": "#0000ff", "titleFontSize": 14, "titleAngle": 270, "titleBaseline": "top", "titlePadding": 13,
                           "labelColor": "#0000ff", "labelFontSize": 12, "domainColor": "#0000ff", "tickColor": "#0000ff"}}
          }
        }
      ],
      "resolve": {"scale": {"y": "independent"}}
    },
    {"width": 2.5, "height": 527.5, "data": {"name": "block"}, "mark": {"type": "point", "opacity": 0}, "encoding": {}, "view": {"fill": "#a0a0a0", "stroke": null}},
    {
      "width": 732, "height": 527.5,
      "title": {"text": "Cumulative Metal", "subtitle": "102,110,101,120,103,111", "dx": 0.6, "offset": -69.5},
      "layer": [
        {
          "layer": [
            {
              "data": {"name": "topcuts"},
              "transform": [{"filter": "datum.method === 'Cumulative Metal'"}],
              "mark": {"type": "rect", "color": "#e8f3f8"},
              "encoding": {
                "x": {"field": "value", "type": "quantitative",
                      "scale": {"domain": [0, 4.95], "range": [176.7, 556.5], "nice": false, "zero": false},
                      "axis": {"orient": "bottom", "offset": -45, "values": [0.5, 1, 1.5, 2, 2.5, 3, 3.5, 4, 4.5], "format": ".1f", "title": "CU_PCT", "titlePadding": 15}},
                "x2": {"datum": 4.95},
                "y": {"datum": 0, "type": "quantitative",
                      "scale": {"domain": [0, 100], "range": [482.5, 81], "nice": false, "zero": false},
                      "axis": {"orient": "left", "offset": -176.7, "values": [0, 10, 20, 30, 40, 50, 60, 70, 80, 90, 100], "title": "Cumulative Probability %", "titleFont": "DejaVu Sans", "titleFontSize": 11, "titlePadding": 23}},
                "y2": {"datum": 100}
              }
            },
            {
              "data": {"name": "topcuts"},
              "transform": [{"filter": "datum.method === 'Cumulative Metal'"}],
              "mark": {"type": "rect", "color": "#e8f3f8"},
              "encoding": {"x": {"datum": 0}, "x2": {"datum": 4.95}, "y": {"field": "pct", "type": "quantitative"}, "y2": {"datum": 100}}
            },
            {
              "data": {"name": "metal"},
              "transform": [{"filter": "datum.cu <= 2.71"}],
              "mark": {"type": "line", "color": "#0000ff", "strokeWidth": 8},
              "encoding": {"x": {"field": "cu", "type": "quantitative"}, "y": {"field": "pct", "type": "quantitative"}}
            },
            {
              "data": {"name": "metal"},
              "transform": [{"filter": "datum.cu > 2.71"}],
              "mark": {"type": "point", "shape": "square", "filled": true, "color": "#0000ff", "size": 36, "opacity": 1},
              "encoding": {"x": {"field": "cu", "type": "quantitative"}, "y": {"field": "pct", "type": "quantitative"}}
            },
            {
              "data": {"name": "markers"},
              "transform": [{"filter": "datum.q !== 'M'"}],
              "mark": {"type": "rule", "color": "#5b80ee", "strokeWidth": 1.5, "strokeDash": [10, 5]},
              "encoding": {"x": {"field": "value", "type": "quantitative"}, "y": {"datum": 0}, "y2": {"datum": 98.5}}
            },
            {
              "data": {"name": "markers"},
              "transform": [{"filter": "datum.q === 'M'"}],
              "mark": {"type": "rule", "color": "#ff0000", "strokeWidth": 1.3},
              "encoding": {"x": {"field": "value", "type": "quantitative"}, "y": {"datum": 0}, "y2": {"datum": 98.5}}
            },
            {
              "data": {"name": "topcuts"},
              "transform": [{"filter": "datum.method === 'Cumulative Metal'"}],
              "mark": {"type": "rule", "color": "#ffc000", "strokeWidth": 1.3},
              "encoding": {"x": {"field": "value", "type": "quantitative"}, "y": {"datum": 0}, "y2": {"datum": 100}}
            },
            {
              "data": {"name": "topcuts"},
              "transform": [{"filter": "datum.method === 'Cumulative Metal'"}],
              "mark": {"type": "point", "shape": "triangle-down", "filled": true, "color": "#ffc000", "size": 110, "opacity": 1},
              "encoding": {"x": {"field": "value", "type": "quantitative"}, "y": {"datum": 100}}
            },
            {
              "data": {"name": "markers"},
              "mark": {"type": "text", "fontSize": 9, "baseline": "top", "dy": 2},
              "encoding": {
                "x": {"field": "value", "type": "quantitative"},
                "y": {"datum": 100},
                "text": {"field": "q"},
                "color": {"field": "q", "type": "nominal", "scale": {"domain": ["25", "50", "M", "75"], "range": ["#3348ff", "#3348ff", "#ff0000", "#3348ff"]}, "legend": null}
              }
            }
          ]
        },
        {
          "data": {"name": "stats"},
          "transform": [{"filter": "datum.block === 'moments'"}],
          "encoding": {
            "x": {"datum": 4.95, "type": "quantitative"},
            "y": {"field": "label", "type": "nominal", "sort": null, "scale": {"type": "point", "range": [111.7, 200.2], "padding": 0}, "axis": null}
          },
          "layer": [
            {"mark": {"type": "text", "align": "right", "baseline": "middle", "dx": -24, "fontSize": 9, "color": "#000000"}, "encoding": {"text": {"field": "label"}}},
            {"mark": {"type": "text", "align": "left", "baseline": "middle", "dx": -21.5, "fontSize": 9},
             "encoding": {"text": {"field": "value"}, "color": {"field": "kind", "type": "nominal", "scale": {"domain": ["plain", "mean", "quantile"], "range": ["#000000", "#ff0000", "#0000ff"]}, "legend": null}}}
          ]
        },
        {
          "data": {"name": "stats"},
          "transform": [{"filter": "datum.block === 'quantiles'"}],
          "encoding": {
            "x": {"datum": 4.95, "type": "quantitative"},
            "y": {"field": "label", "type": "nominal", "sort": null, "scale": {"type": "point", "range": [218.9, 269.9], "padding": 0}, "axis": null}
          },
          "layer": [
            {"mark": {"type": "text", "align": "right", "baseline": "middle", "dx": -24, "fontSize": 9, "color": "#000000"}, "encoding": {"text": {"field": "label"}}},
            {"mark": {"type": "text", "align": "left", "baseline": "middle", "dx": -21.5, "fontSize": 9},
             "encoding": {"text": {"field": "value"}, "color": {"field": "kind", "type": "nominal", "scale": {"domain": ["plain", "mean", "quantile"], "range": ["#000000", "#ff0000", "#0000ff"]}, "legend": null}}}
          ]
        }
      ],
      "resolve": {"scale": {"y": "independent", "color": "independent"}}
    },
    {"width": 2, "height": 527.5, "data": {"name": "block"}, "mark": {"type": "point", "opacity": 0}, "encoding": {}, "view": {"fill": "#a0a0a0", "stroke": null}},
    {"width": 2.5, "height": 527.5, "data": {"name": "block"}, "mark": {"type": "point", "opacity": 0}, "encoding": {}, "view": {"fill": "#f0f0f0", "stroke": null}},
    {"width": 2, "height": 527.5, "data": {"name": "block"}, "mark": {"type": "point", "opacity": 0}, "encoding": {}, "view": {"fill": "#a7c0e6", "stroke": null}},
    {
      "width": 379, "height": 527.5,
      "view": {"fill": "#f0f0f0", "stroke": null},
      "layer": [
        {
          "data": {"name": "statCells"},
          "transform": [{"filter": "datum.col === 'Wide'"}],
          "layer": [
            {"mark": {"type": "rect", "fill": "#f0f0f0", "stroke": "#c6c6c6", "strokeWidth": 1},
             "encoding": {
               "x": {"field": "col", "type": "nominal", "scale": {"type": "band", "domain": ["Wide"], "range": [201, 377.5], "paddingInner": 0, "paddingOuter": 0}, "axis": null},
               "y": {"field": "stat", "type": "nominal", "scale": {"type": "band", "domain": ["Topcut", "Topcut Percentile", "Number of Samples cut", "Metal cut", "Topcut zone above"], "range": [7.2, 169.4], "paddingInner": 0.34, "paddingOuter": 0}, "axis": null}}},
            {"mark": {"type": "text", "align": "left", "baseline": "middle", "dx": 3, "font": "Roboto", "fontSize": 12, "color": "#1a1a1a"},
             "encoding": {
               "x": {"field": "col", "type": "nominal", "bandPosition": 0},
               "y": {"field": "stat", "type": "nominal"},
               "text": {"field": "text"}}}
          ]
        },
        {
          "data": {"values": [{"stat": "Topcut"}, {"stat": "Topcut Percentile"}, {"stat": "Number of Samples cut"}, {"stat": "Metal cut"}, {"stat": "Topcut zone above"}]},
          "transform": [{"calculate": "'label'", "as": "slot"}],
          "mark": {"type": "text", "align": "left", "baseline": "middle", "dy": -3, "font": "Roboto", "fontSize": 12, "color": "#1a1a1a"},
          "encoding": {
            "x": {"field": "slot", "type": "nominal", "scale": {"type": "point", "domain": ["label"], "range": [17, 17], "padding": 0}, "axis": null},
            "y": {"field": "stat", "type": "nominal", "scale": {"type": "band", "domain": ["Topcut", "Topcut Percentile", "Number of Samples cut", "Metal cut", "Topcut zone above"], "range": [7.2, 169.4], "paddingInner": 0.34, "paddingOuter": 0}, "axis": null},
            "text": {"field": "stat"}
          }
        },
        {
          "data": {"values": [{"button": "Export to .csv"}]},
          "layer": [
            {"mark": {"type": "rect", "fill": "#ffffff", "stroke": "#adadad", "strokeWidth": 1, "cornerRadius": 3},
             "encoding": {
               "x": {"field": "button", "type": "nominal", "scale": {"type": "band", "range": [83, 299], "paddingInner": 0, "paddingOuter": 0}, "axis": null},
               "y": {"field": "button", "type": "nominal", "scale": {"type": "band", "range": [201.5, 227.5], "paddingInner": 0, "paddingOuter": 0}, "axis": null}}},
            {"mark": {"type": "text", "align": "center", "baseline": "middle", "font": "Roboto", "fontSize": 12, "color": "#1a1a1a"},
             "encoding": {
               "x": {"field": "button", "type": "nominal"},
               "y": {"field": "button", "type": "nominal"},
               "text": {"field": "button"}}}
          ]
        },
        {
          "data": {"values": [{"item": "panel edge"}]},
          "mark": {"type": "rect", "color": "#a7c0e6"},
          "encoding": {
            "x": {"field": "item", "type": "nominal", "scale": {"type": "band", "range": [0, 379], "paddingInner": 0, "paddingOuter": 0}, "axis": null},
            "y": {"field": "item", "type": "nominal", "scale": {"type": "band", "range": [493.5, 495.5], "paddingInner": 0, "paddingOuter": 0}, "axis": null}
          }
        },
        {
          "data": {"values": [{"line": "Log"}, {"line": "Apply a log scale to the assay data"}]},
          "transform": [{"calculate": "'help'", "as": "slot"}],
          "encoding": {
            "x": {"field": "slot", "type": "nominal", "scale": {"type": "point", "domain": ["help"], "range": [0, 0], "padding": 0}, "axis": null},
            "y": {"field": "line", "type": "nominal", "scale": {"type": "point", "domain": ["Log", "Apply a log scale to the assay data"], "range": [511, 525.5], "padding": 0}, "axis": null},
            "text": {"field": "line"}
          },
          "layer": [
            {"transform": [{"filter": "datum.line === 'Log'"}], "mark": {"type": "text", "align": "left", "baseline": "middle", "font": "Roboto", "fontSize": 12, "fontWeight": "bold", "color": "#000000"}},
            {"transform": [{"filter": "datum.line !== 'Log'"}], "mark": {"type": "text", "align": "left", "baseline": "middle", "font": "Roboto", "fontSize": 12, "color": "#000000"}}
          ]
        }
      ],
      "resolve": {"scale": {"x": "independent", "y": "independent"}}
    },
    {"width": 2, "height": 527.5, "data": {"name": "block"}, "mark": {"type": "point", "opacity": 0}, "encoding": {}, "view": {"fill": "#000000", "stroke": null}},

    {"width": 2, "height": 2, "data": {"name": "block"}, "mark": {"type": "point", "opacity": 0}, "encoding": {}, "view": {"fill": "#000000", "stroke": null}},
    {"width": 617, "height": 2, "data": {"name": "block"}, "mark": {"type": "point", "opacity": 0}, "encoding": {}, "view": {"fill": "#000000", "stroke": null}},
    {"width": 2.5, "height": 2, "data": {"name": "block"}, "mark": {"type": "point", "opacity": 0}, "encoding": {}, "view": {"fill": "#000000", "stroke": null}},
    {"width": 732, "height": 2, "data": {"name": "block"}, "mark": {"type": "point", "opacity": 0}, "encoding": {}, "view": {"fill": "#000000", "stroke": null}},
    {"width": 2, "height": 2, "data": {"name": "block"}, "mark": {"type": "point", "opacity": 0}, "encoding": {}, "view": {"fill": "#000000", "stroke": null}},
    {"width": 2.5, "height": 2, "data": {"name": "block"}, "mark": {"type": "point", "opacity": 0}, "encoding": {}, "view": {"fill": "#000000", "stroke": null}},
    {"width": 2, "height": 2, "data": {"name": "block"}, "mark": {"type": "point", "opacity": 0}, "encoding": {}, "view": {"fill": "#000000", "stroke": null}},
    {"width": 379, "height": 2, "data": {"name": "block"}, "mark": {"type": "point", "opacity": 0}, "encoding": {}, "view": {"fill": "#000000", "stroke": null}},
    {"width": 2, "height": 2, "data": {"name": "block"}, "mark": {"type": "point", "opacity": 0}, "encoding": {}, "view": {"fill": "#000000", "stroke": null}}
  ]
}
